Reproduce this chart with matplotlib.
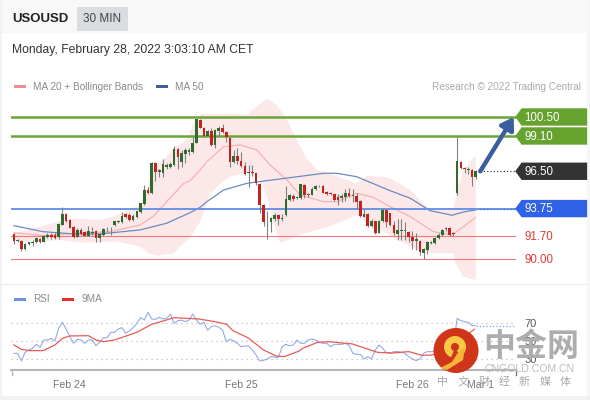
import matplotlib
matplotlib.use('Agg')
import matplotlib.pyplot as plt
from matplotlib.patches import Rectangle, Circle, Arc, Polygon

plt.rcParams['font.family'] = ['Liberation Sans', 'DejaVu Sans']

# candles, 30 min
opens = [91.88,91.37,91.39,90.75,91.12,91.19,91.29,91.54,91.32,91.68,91.83,91.83,91.68,92.57,93.33,92.89,92.40,91.68,92.18,92.05,91.76,91.98,92.10,91.56,91.81,92.22,92.22,92.52,92.76,92.76,93.33,93.28,92.91,93.16,93.50,94.09,95.12,94.88,97.14,96.47,96.40,96.79,96.84,96.96,98.12,97.21,97.77,97.95,97.90,98.61,
         100.28,99.67,99.13,99.44,98.46,99.49,99.69,99.40,98.98,97.16,97.65,97.26,96.89,96.40,96.47,96.35,95.59,94.02,92.81,92.79,93.01,93.26,92.96,93.28,94.39,94.70,94.53,94.56,95.51,94.83,94.78,95.17,95.44,95.42,94.97,94.90,94.85,94.63,94.51,94.63,94.88,94.66,94.68,94.31,93.16,93.35,92.49,92.81,91.98,92.84,93.62,
         93.40,92.54,91.88,92.13,92.13,92.05,91.68,91.36,91.36,90.50,90.70,91.24,91.24,91.59,91.83,92.32,92.32,91.93,94.93,97.21,96.77,96.60,96.60,96.06]
closes = [91.39,91.41,90.75,91.14,91.27,91.32,91.56,91.29,91.73,91.78,91.68,91.61,92.59,93.35,92.86,92.35,91.66,92.18,91.88,91.76,92.10,92.05,91.56,91.88,92.22,92.27,92.27,92.81,92.86,93.21,93.16,92.91,93.21,93.55,94.14,95.12,94.93,97.14,96.45,96.60,97.04,96.99,97.04,98.12,97.58,97.82,98.05,98.05,98.61,100.33,
          99.71,99.13,99.49,98.46,99.54,99.71,99.40,99.05,97.21,97.65,97.26,96.89,96.30,96.47,96.35,95.61,94.02,92.79,92.86,93.03,93.30,93.01,93.08,94.46,94.75,94.43,94.58,95.54,94.75,94.73,95.22,95.42,95.39,94.93,94.83,94.83,94.39,94.39,94.66,94.88,94.70,94.73,94.26,93.18,93.35,92.49,92.81,91.98,92.84,93.65,92.79,
          92.54,91.93,92.18,92.18,92.18,91.68,91.39,91.49,90.55,90.75,91.32,91.32,91.59,91.83,92.18,92.27,91.83,91.86,97.28,96.74,96.64,96.64,96.10,96.50]
highs = [91.98,91.51,91.44,91.19,91.32,91.44,91.61,91.59,91.78,91.93,91.98,92.00,92.67,93.85,93.40,92.96,92.47,92.30,92.30,92.10,92.47,92.42,92.18,91.98,92.30,92.37,92.37,92.86,92.91,93.53,93.45,93.40,93.35,93.60,94.19,95.49,95.37,97.19,97.19,96.69,97.38,97.09,97.21,98.36,98.19,98.07,98.19,98.19,99.05,100.38,
         100.35,99.74,99.54,99.67,99.59,99.84,99.96,99.49,99.03,98.07,98.19,97.95,97.21,96.96,96.96,96.40,95.64,94.07,93.60,93.11,93.45,93.35,93.35,95.42,94.83,94.83,94.68,95.59,95.56,94.93,95.32,95.49,95.51,95.49,95.02,94.97,94.93,94.83,94.83,95.17,95.25,95.17,94.88,94.36,93.70,93.40,92.96,92.86,92.91,93.80,93.70,
         93.45,92.86,92.96,92.96,92.79,92.13,92.08,91.93,91.44,90.85,91.39,91.39,91.68,91.93,92.27,92.37,92.40,92.03,99.00,97.28,96.84,96.79,96.64,96.60]
lows = [91.14,91.27,90.65,90.70,91.07,91.02,91.24,91.24,91.27,91.56,91.54,91.51,91.49,92.54,92.79,92.30,91.61,91.63,91.78,91.73,91.73,91.81,91.29,91.32,91.76,92.05,91.78,92.47,92.72,92.72,93.08,92.84,92.86,93.06,93.40,94.04,94.83,94.83,95.81,96.06,96.06,96.69,96.72,96.89,96.65,96.84,97.14,97.70,97.82,98.56,
        99.67,99.05,99.08,98.36,98.19,99.10,99.35,98.68,96.79,97.09,97.04,96.84,96.20,95.32,96.15,95.49,93.40,92.49,91.49,92.05,92.86,92.54,92.86,93.21,94.31,94.34,94.43,94.48,94.53,94.58,94.73,95.12,95.32,94.88,94.78,94.75,94.34,94.02,94.26,94.34,94.63,94.26,93.75,93.11,93.11,92.42,92.37,91.88,91.93,92.76,92.37,
        92.47,91.81,91.44,91.44,91.44,91.32,90.75,90.70,90.31,90.01,90.41,91.12,91.14,91.51,91.73,92.13,91.76,91.73,94.78,96.67,96.35,96.30,95.42,95.96]

# bollinger bands and moving averages, read at these bar numbers
upper_x = [0,5.2,11.9,16.9,23.1,26.7,33.9,35.7,37.5,40.2,42.9,46.5,48,49.5,50.5,56,62.5,65.6,67.9,70.6,73.3,75.9,78.6,81.3,84.9,92,94.8,99.2,101,106.4,111.7,118,119,120.7,124]
upper = [91.93,92.30,92.79,93.03,92.91,93.16,94.02,95.12,96.84,97.33,98.19,98.81,99.91,100.57,100.72,100.72,100.65,101.38,101.83,101.38,100.28,98.81,97.46,96.60,96.30,95.61,96.15,96.10,95.98,95.12,93.65,93.65,95.12,96.60,97.70]
lower_x = [0,7.8,11.9,18.6,27.6,33.9,36.1,38.4,42.9,47.4,50,52.7,55.4,58,62.5,66.1,67.9,69.7,71.5,76.8,85.8,92,93.9,99.2,106.4,112.6,118,118.5,120.7,124]
lower = [91.32,91.32,91.44,91.24,91.32,90.95,90.46,90.28,90.46,91.68,92.79,94.88,95.61,96.10,96.40,95.98,94.63,92.67,91.19,91.81,92.54,93.28,92.79,92.05,90.95,90.46,90.46,89.72,88.74,88.49]
ma20_x = [0,7.8,16,25.8,33.9,37.5,41,45.6,47.3,50,51.8,56.3,60.7,65.2,68.8,73.3,76.8,83.1,86.7,92,96.5,101,106.4,112.6,117.6,120.7,124]
ma20 = [91.98,91.76,91.93,92.05,92.54,93.21,94.26,95.61,95.81,96.60,97.21,98.31,98.44,98.07,96.96,95.86,94.75,94.26,94.26,94.88,94.58,93.89,93.16,92.05,91.81,92.42,93.11]
ma50_x = [0,7.8,16,23.1,33.9,41,47.3,50,51.8,56.3,62.5,67.9,74.2,83.1,86.7,92,101,106.4,111.7,117.6,120.7,124]
ma50 = [92.49,92.05,91.88,91.88,92.18,92.67,93.45,93.85,94.26,95.12,95.61,95.81,96.03,96.35,96.35,96.10,95.07,94.51,93.60,93.26,93.50,93.65]

# rsi pane
rsi = [36.3,36.3,27.9,37.4,40,41.8,46.2,42.9,51,51,52.8,49.9,63.8,70.4,63,54.6,47.3,51.7,51,47.3,51,51,44.7,48.4,53.5,53.5,59.4,59.4,63,64.5,58.3,60.9,64.5,69.3,75.5,72.9,81.3,74,73.7,75.9,74,74.8,79.2,69.3,72.2,72.9,71.1,72.9,79.5,72.9,68.2,70.4,61.9,65.6,66.7,64.9,61.9,49.1,51.7,49.9,47.3,43.6,44.4,44.4,40,34.5,27.9,28.6,30.1,32.7,32.3,31.6,43.6,46.2,44.7,45.5,51,
       47.3,47.3,51,52,51,48.4,47.3,47.3,43.6,46.2,46.2,46.2,47.3,44.7,36.3,35.2,35.2,30.1,32.7,30.1,40,45.5,41.8,37,36.3,38.2,38.2,37.4,36.3,32.7,30.1,28.3,30.1,36.3,38.2,
       38,39,41,42,43,42,44,74.8,72.2,71.1,70.4,66.7,66.7]
ma9_x = [0,2,4.3,7.8,11,13,15,20,22,24,27,33,37,43,49.7,54,57.1,58.8,62.8,67,70.4,72.6,76.6,77.5,81.5,84.6,90.9,97.6,101.6,106,109.6,112.3,118,123.6]
ma9 = [45.5,40.7,39.3,39.3,45.5,52.8,55.4,55.7,51,49.1,51,59.4,68.2,75.5,74,71.1,68.2,61.2,53.5,40,33.4,32.7,38.9,41.8,48.4,49.1,46.6,37.4,36.7,38.2,34.1,34.5,45,62.7]
rsi_levels = [30, 50, 70]
date_x = [15, 61, 107, 125.4]
date_labels = ['Feb 24', 'Feb 25', 'Feb 26', 'Mar 1']

# levels
green_levels = [100.50, 99.10]
last_price = 96.50
blue_level = 93.75
red_levels = [91.70, 90.00]

W, H = 590, 400
fig = plt.figure(figsize=(5.9, 4.0), dpi=100, facecolor='white')

def px_axes(left, top, right, bottom):
    return fig.add_axes([left / W, 1 - bottom / H, (right - left) / W, (bottom - top) / H])

# page furniture in pixel coordinates
bg = fig.add_axes([0, 0, 1, 1], zorder=0)
bg.set_xlim(0, W)
bg.set_ylim(H, 0)
bg.axis('off')
bg.add_patch(Rectangle((0, 0), W, 33, color='#f8f8f8', lw=0))
bg.add_patch(Rectangle((0, 0), 2, H, color='#f1f2f4', lw=0))
bg.add_patch(Rectangle((587, 0), 3, H, color='#f6f6f6', lw=0))
bg.add_patch(Rectangle((0, 396), W, 4, color='#f1f2f4', lw=0))
bg.add_patch(Rectangle((77, 7), 51, 24, color='#d9dce1', lw=0))
bg.plot([2, 587], [284, 284], color='#eeeeee', lw=1)
bg.text(12, 19.5, 'USOUSD', fontsize=9.5, fontweight='bold', color='#222222', va='center')
bg.text(83, 19, '30 MIN', fontsize=8.5, color='#444444', va='center')
bg.text(12.5, 49.5, 'Monday, February 28, 2022 3:03:10 AM CET', fontsize=8.75, color='#333333', va='center')
bg.add_patch(Rectangle((14, 84.5), 12, 3.5, color='#f08c8c', lw=0))
bg.text(33, 86.5, 'MA 20 + Bollinger Bands', fontsize=7.2, color='#8a8a8a', va='center')
bg.add_patch(Rectangle((156, 84.5), 12, 3.5, color='#3f5f9f', lw=0))
bg.text(175, 86.5, 'MA 50', fontsize=7.2, color='#8a8a8a', va='center')
bg.text(581, 86.5, 'Research © 2022 Trading Central', fontsize=7.2, color='#aaaaaa', va='center', ha='right')
bg.add_patch(Rectangle((14, 297.5), 12, 3.5, color='#6f8fe0', lw=0))
bg.text(33, 299.5, 'RSI', fontsize=7.2, color='#8a8a8a', va='center')
bg.add_patch(Rectangle((62, 297.5), 12, 3.5, color='#e8302a', lw=0))
bg.text(82, 299.5, '9MA', fontsize=7.2, color='#8a8a8a', va='center')

# price pane
ax = px_axes(11, 95, 516, 282)
ax.set_zorder(1)
ax.patch.set_alpha(0)
ax.set_xlim(-0.8, 134.8)
ax.set_ylim(88.34, 102.12)
ax.axis('off')

ax.fill(upper_x + lower_x[::-1], upper + lower[::-1], color='#fce8e8', lw=0, zorder=1)
ax.plot(ma20_x, ma20, color='#f5adad', lw=0.8, zorder=2)
ax.plot(ma50_x, ma50, color='#6a8bc2', lw=0.9, zorder=2)

for lv in green_levels:
    ax.axhline(lv, color='#6aa535', lw=1.8, zorder=3)
ax.axhline(blue_level, color='#6a94ea', lw=1.4, zorder=3)
for lv in red_levels:
    ax.axhline(lv, color='#ee7a7a', lw=0.8, zorder=3)

idx = list(range(len(opens)))
ax.vlines(idx, lows, highs, color='#808080', lw=0.8, zorder=4)
for i in idx:
    up = closes[i] >= opens[i]
    c = '#2f6b2f' if up else '#c4221f'
    ax.add_patch(Rectangle((i - 0.36, min(opens[i], closes[i])), 0.72,
                           max(abs(closes[i] - opens[i]), 0.05), color=c, lw=0, zorder=5))

# dotted leaders and the forecast arrow
ax.plot([125, 134.8], [last_price, last_price], color='#444444', lw=0.9, ls=':', zorder=3)
ax.plot([125, 134.8], [blue_level, blue_level], color='#3f6fd0', lw=0.9, ls=':', zorder=3)
ax.annotate('', xy=(134.2, green_levels[0]), xytext=(125.2, last_price),
            arrowprops=dict(arrowstyle='-|>,head_width=0.45,head_length=0.7', color='#3a5f9e', lw=3.2,
                            shrinkA=0, shrinkB=0), zorder=6)

# price tags on the right
tags = [(green_levels[0], '#66a32e'), (green_levels[1], '#66a32e'), (last_price, '#333333'), (blue_level, '#2f62e6')]
for lv, c in tags:
    ax.add_patch(Polygon([(134.6, lv), (136.3, lv + 0.64), (153.9, lv + 0.64), (153.9, lv - 0.64), (136.3, lv - 0.64)],
                         color=c, lw=0, clip_on=False, zorder=6))
    ax.text(137.1, lv - 0.06, f'{lv:.2f}', color='white', fontsize=8.3, va='center', clip_on=False, zorder=7)
for lv in red_levels:
    ax.text(137.1, lv - 0.06, f'{lv:.2f}', color='#e03a34', fontsize=8.3, va='center', clip_on=False, zorder=7)

# rsi pane
ax2 = px_axes(11, 295, 516, 370)
ax2.set_zorder(1)
ax2.patch.set_alpha(0)
ax2.set_xlim(-0.8, 134.8)
ax2.set_ylim(18.0, 100.4)
for s in ['top', 'left', 'right']:
    ax2.spines[s].set_visible(False)
ax2.spines['bottom'].set_color('#b5b5b5')
ax2.spines['bottom'].set_linewidth(1.5)
for lv in rsi_levels:
    ax2.axhline(lv, color='#bdbdbd', lw=0.9, ls=(0, (1, 3)), zorder=1)
ax2.plot(idx, rsi, color='#92aae8', lw=0.8, zorder=2)
ax2.plot([idx[-1], 134.8], [rsi[-1], rsi[-1]], color='#86a0e6', lw=0.9, ls=':', zorder=2)
ax2.plot(ma9_x, ma9, color='#ea5a54', lw=0.9, zorder=3)
ax2.set_xticks(date_x)
ax2.set_xticklabels(date_labels, fontsize=7.6, color='#777777')
ax2.tick_params(axis='x', length=0, pad=7)
ax2.yaxis.tick_right()
ax2.set_yticks(rsi_levels)
ax2.set_yticklabels([str(v) for v in rsi_levels], fontsize=8, color='#555555')
ax2.tick_params(axis='y', length=0, pad=6)
bg.plot([11.5, 11.5], [370, 375], color='#b5b5b5', lw=1)
bg.plot([516, 516], [370, 375], color='#777777', lw=1)

# watermark on top
cjk = ['Noto Sans CJK SC', 'DejaVu Sans']
wm = fig.add_axes([0, 0, 1, 1], zorder=5)
wm.set_xlim(0, W)
wm.set_ylim(H, 0)
wm.axis('off')
wm.add_patch(Circle((456, 350.5), 22.5, color='#cf3518', lw=0))
wm.add_patch(Arc((455, 347), 15, 15, theta1=-250, theta2=60, color='#f8c846', lw=5))
wm.add_patch(Polygon([(465, 347), (463, 360), (447, 370), (440, 368), (452, 362), (457, 354)], color='#f4b535', lw=0))
wm.text(531, 347, '中金网', family=cjk, fontsize=23, fontweight='bold', color='#adadad', ha='center', va='center')
wm.text(530, 369, 'CNGOLD.COM.CN', fontsize=7.6, color='#bcbcbc', ha='center', va='center')
for k, ch in enumerate('中文财经新媒体'):
    wm.text(443 + 20.4 * k, 382, ch, family=cjk, fontsize=8, color='#a8a8a8', ha='center', va='center')

fig.savefig('out.png', dpi=100)
